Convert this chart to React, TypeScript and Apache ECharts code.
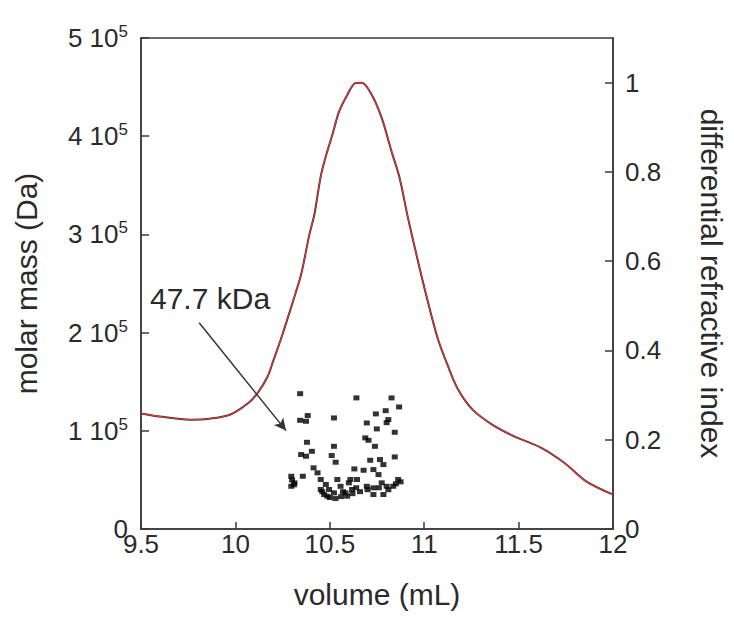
import React, { useEffect, useRef } from "react";
import * as echarts from "echarts";

// Differential refractive index trace (right axis)
const volume = [9.5, 9.6, 9.76, 9.86, 9.97, 10.07, 10.12, 10.17, 10.2, 10.243, 10.305, 10.348, 10.392, 10.418, 10.452, 10.479, 10.514, 10.549, 10.592, 10.635, 10.67, 10.722, 10.775, 10.827, 10.87, 10.914, 10.967, 11.019, 11.071, 11.123, 11.175, 11.255, 11.36, 11.48, 11.62, 11.74, 11.86, 12.0];
const dri = [0.259, 0.252, 0.245, 0.247, 0.256, 0.283, 0.306, 0.341, 0.376, 0.428, 0.51, 0.57, 0.66, 0.704, 0.79, 0.835, 0.884, 0.935, 0.972, 0.999, 1.0, 0.973, 0.921, 0.846, 0.786, 0.697, 0.6, 0.51, 0.428, 0.368, 0.316, 0.268, 0.234, 0.207, 0.182, 0.149, 0.106, 0.077];

// Molar mass points (left axis)
const massVolume = [10.343, 10.641, 10.827, 10.867, 10.796, 10.744, 10.383, 10.343, 10.374, 10.522, 10.696, 10.749, 10.801, 10.81, 10.844, 10.688, 10.705, 10.739, 10.379, 10.405, 10.348, 10.374, 10.522, 10.51, 10.531, 10.714, 10.766, 10.784, 10.844, 10.414, 10.435, 10.63, 10.679, 10.731, 10.758, 10.296, 10.313, 10.296, 10.357, 10.452, 10.479, 10.496, 10.54, 10.557, 10.583, 10.609, 10.618, 10.644, 10.696, 10.731, 10.775, 10.801, 10.862, 10.836, 10.731, 10.784, 10.487, 10.592, 10.522, 10.452, 10.601, 10.46, 10.47, 10.5, 10.53, 10.56, 10.57, 10.62, 10.64, 10.66, 10.7, 10.76, 10.81, 10.85, 10.875, 10.3, 10.31];
const molarMass = [137800, 133500, 133500, 124300, 120500, 117200, 115500, 110700, 109700, 113100, 108000, 101900, 108300, 111400, 98500, 92800, 90300, 84200, 88300, 79100, 75800, 74100, 84200, 74800, 68000, 70000, 70700, 65600, 73400, 62300, 57200, 61200, 59800, 60500, 55400, 53700, 47000, 43500, 53700, 50400, 45300, 40200, 50400, 43500, 36800, 50400, 40200, 50400, 43500, 41900, 47000, 43500, 50400, 43500, 35100, 35100, 33400, 33400, 36800, 40200, 47000, 38000, 35000, 32000, 31000, 33000, 38000, 36000, 42000, 38000, 40000, 42000, 40000, 46000, 48000, 50000, 45000];

const xTicks = [9.5, 10, 10.5, 11, 11.5, 12];
const annotationText = "47.7 kDa";
const arrowFrom = [9.808, 210000];
const arrowTo = [10.268, 100200];

const FONT = "'Liberation Sans', Arial, Helvetica, sans-serif";
const TXT = "#2a2a2a";

export default function App() {
  const ref = useRef<HTMLDivElement>(null);
  useEffect(() => {
    document.body.style.margin = "0";
    const chart = echarts.init(ref.current!, null, { renderer: "svg" });
    const lineData = volume.map((v, i) => [v, dri[i]]);
    const pts = massVolume.map((v, i) => [v, molarMass[i]]);
    chart.setOption({
      animation: false,
      backgroundColor: "#fff",
      textStyle: { fontFamily: FONT },
      grid: {
        left: 141,
        right: 114,
        top: 38,
        bottom: 95,
        show: true,
        borderColor: "#3a3a3a",
        borderWidth: 1.5,
      },
      xAxis: {
        type: "value",
        min: 9.5,
        max: 12,
        interval: 0.5,
        name: "volume (mL)",
        nameLocation: "middle",
        nameGap: 50,
        nameTextStyle: { fontSize: 30, color: TXT, fontFamily: FONT },
        axisLine: { show: true, lineStyle: { color: "#3a3a3a", width: 1.5 } },
        axisTick: { show: true, inside: true, length: 7, lineStyle: { color: "#3a3a3a", width: 1.5 } },
        axisLabel: {
          fontSize: 26,
          color: TXT,
          margin: 2,
          fontFamily: FONT,
          formatter: (v: number) => (xTicks.includes(v) ? String(v) : ""),
        },
        splitLine: { show: false },
      },
      yAxis: [
        {
          type: "value",
          min: 0,
          max: 500000,
          interval: 100000,
          position: "left",
          name: "molar mass (Da)",
          nameLocation: "middle",
          nameGap: 100,
          nameTextStyle: { fontSize: 30, color: TXT, fontFamily: FONT },
          axisLine: { show: true, lineStyle: { color: "#3a3a3a", width: 1.5 } },
          axisTick: { show: true, inside: true, length: 8, lineStyle: { color: "#3a3a3a", width: 1.5 } },
          axisLabel: {
            margin: 13,
            color: TXT,
            fontFamily: FONT,
            formatter: (v: number) => (v === 0 ? "{a|0}" : `{a|${v / 100000} 10}{s|5}`),
            rich: {
              a: { fontSize: 26, color: TXT, fontFamily: FONT, lineHeight: 30 },
              s: { fontSize: 17, color: TXT, fontFamily: FONT, verticalAlign: "top", lineHeight: 17 },
            },
          },
          splitLine: { show: false },
        },
        {
          type: "value",
          min: 0,
          max: 1.1,
          interval: 0.2,
          position: "right",
          name: "differential refractive index",
          nameLocation: "middle",
          nameRotate: -90,
          nameGap: 83,
          nameTextStyle: { fontSize: 30, color: TXT, fontFamily: FONT },
          axisLine: { show: true, lineStyle: { color: "#3a3a3a", width: 1.5 } },
          axisTick: { show: true, inside: true, length: 8, lineStyle: { color: "#3a3a3a", width: 1.5 } },
          axisLabel: {
            fontSize: 26,
            color: TXT,
            margin: 12,
            fontFamily: FONT,
            showMaxLabel: false,
            formatter: (v: number) => (v > 1.05 ? "" : String(Math.round(v * 10) / 10)),
          },
          splitLine: { show: false },
        },
      ],
      series: [
        {
          type: "line",
          yAxisIndex: 1,
          data: lineData,
          smooth: 0.3,
          showSymbol: false,
          lineStyle: { color: "#303030", width: 2 },
          z: 2,
        },
        {
          type: "line",
          yAxisIndex: 1,
          data: lineData,
          smooth: 0.3,
          showSymbol: false,
          lineStyle: { color: "#e03a3a", width: 1.1 },
          z: 3,
        },
        {
          type: "scatter",
          yAxisIndex: 0,
          data: pts,
          symbol: "rect",
          symbolSize: [6, 5],
          itemStyle: { color: "#000" },
          z: 4,
          markLine: {
            silent: true,
            symbol: ["none", "arrow"],
            symbolSize: [9, 12],
            label: { show: false },
            lineStyle: { color: "#333", width: 1.5, type: "solid" },
            data: [[{ coord: arrowFrom }, { coord: arrowTo }]],
          },
        },
      ],
      graphic: [
        {
          type: "text",
          left: 150,
          top: 283,
          style: { text: annotationText, fontSize: 30, fill: TXT, fontFamily: FONT },
        },
      ],
    });
    return () => chart.dispose();
  }, []);
  return <div ref={ref} style={{ width: 734, height: 624 }} />;
}
